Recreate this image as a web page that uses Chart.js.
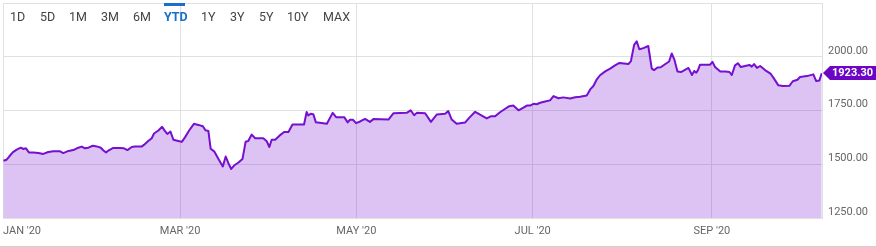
<!DOCTYPE html>
<html>
<head>
<meta charset="utf-8">
<script src="https://cdn.jsdelivr.net/npm/chart.js@4.4.0/dist/chart.umd.min.js"></script>
<style>
  body { margin: 0; background: #fff; }
  #wrap { position: relative; width: 876px; height: 247px; font-family: Roboto, sans-serif; }
  #ranges { position: absolute; left: 0; top: 0; height: 30px; width: 360px; }
  #ranges span { position: absolute; top: 10px; font-size: 12.5px; color: #444; line-height: 14px; }
  #ranges span.active { color: #1a6fc9; font-weight: bold; }
  #ranges .bar { position: absolute; left: 164px; top: 3px; width: 21px; height: 3px; background: #1a6fc9; }
</style>
</head>
<body>
<div id="wrap">
  <canvas id="goldChart" width="876" height="247"></canvas>
  <div id="ranges"><div class="bar"></div></div>
</div>
<script>
// dias desde el 1 de enero de 2020 (el 31 dic 2019 es -1)
const days = [
  -1.1, 0.0, 0.9, 2.1, 3.5, 4.9, 5.8, 6.7, 7.7, 9.2, 11.0, 12.7, 14.4, 16.2, 18.5, 19.6,
  21.4, 23.1, 24.8, 26.0, 27.1, 28.3, 29.8, 31.2, 32.6, 33.5, 34.4, 35.5, 36.9, 39.2, 40.6,
  41.8, 43.3, 44.4, 46.8, 47.5, 49.0, 50.2, 51.0, 52.5, 53.8, 54.8, 55.6, 56.7, 57.7, 59.4,
  60.6, 61.7, 63.2, 64.8, 66.3, 67.9, 68.8, 69.8, 70.6, 71.8, 73.3, 74.8, 75.8, 76.7, 77.7,
  78.7, 80.2, 81.6, 82.7, 83.6, 84.8, 86.0, 87.7, 88.8, 90.0, 90.9, 91.7, 92.9, 94.4, 96.0,
  97.5, 98.9, 102.9, 103.8, 104.4, 105.2, 106.1, 107.0, 110.8, 112.8, 114.0, 116.8, 118.0,
  118.8, 119.8, 120.9, 122.3, 124.0, 125.7, 126.9, 132.1, 133.8, 138.4, 139.8, 141.0, 141.9,
  144.8, 146.8, 148.8, 151.7, 152.8, 154.0, 155.7, 158.6, 160.1, 162.1, 163.8, 166.1, 167.5,
  169.0, 170.7, 172.5, 173.9, 175.3, 177.1, 178.8, 180.0, 181.1, 182.3, 183.4, 184.6, 186.3,
  188.0, 189.2, 190.9, 192.6, 195.0, 196.7, 198.4, 200.7, 201.9, 203.0, 204.2, 205.3, 207.1,
  208.8, 210.5, 212.0, 215.1, 216.0, 217.1, 218.0, 218.9, 220.3, 222.0, 223.2, 224.0, 225.2,
  226.3, 227.8, 229.2, 230.1, 231.0, 232.1, 233.3, 235.9, 237.1, 237.9, 238.6, 239.2, 239.9,
  243.4, 244.2, 245.1, 246.9, 248.6, 250.1, 250.9, 252.0, 253.0, 254.0, 255.5, 257.0, 257.8,
  258.6, 259.6, 260.7, 262.4, 264.4, 265.5, 267.0, 268.6, 270.8, 272.0, 273.6, 274.5, 276.9,
  279.1, 280.1, 281.2, 282.0
];
const prices = [
  1516, 1521, 1536, 1555, 1568, 1577, 1571, 1574, 1555, 1555, 1552, 1548, 1557, 1560, 1560, 1552,
  1562, 1566, 1577, 1582, 1574, 1577, 1586, 1583, 1577, 1564, 1555, 1566, 1576, 1576, 1574,
  1566, 1580, 1583, 1583, 1590, 1608, 1621, 1643, 1657, 1674, 1654, 1641, 1652, 1614, 1608,
  1604, 1625, 1658, 1688, 1683, 1677, 1658, 1655, 1572, 1560, 1524, 1490, 1536, 1506, 1478,
  1494, 1508, 1524, 1605, 1608, 1638, 1621, 1621, 1621, 1607, 1580, 1614, 1614, 1633, 1650,
  1650, 1685, 1685, 1743, 1727, 1735, 1733, 1695, 1688, 1739, 1719, 1719, 1695,
  1707, 1707, 1691, 1699, 1711, 1697, 1710, 1708, 1737, 1739, 1751, 1728, 1739,
  1737, 1697, 1731, 1735, 1747, 1708, 1688, 1694, 1717, 1744, 1731, 1713, 1723,
  1723, 1742, 1758, 1770, 1773, 1751, 1763, 1773, 1773, 1781, 1779, 1786, 1792,
  1797, 1817, 1807, 1811, 1806, 1812, 1814, 1820, 1848, 1864, 1895, 1914, 1932,
  1945, 1960, 1971, 1966, 1980, 2055, 2072, 2035, 2040, 2050, 1945, 1938, 1950,
  1951, 1965, 1978, 2015, 1988, 1931, 1929, 1948, 1915, 1934, 1926, 1938, 1963,
  1963, 1976, 1952, 1931, 1931, 1929, 1915, 1960, 1970, 1952, 1957, 1962, 1954,
  1966, 1948, 1957, 1938, 1920, 1898, 1867, 1864, 1865, 1886, 1893, 1906, 1910,
  1918, 1887, 1890, 1923.30
];

const xMin = -1.25;
const xMax = 282.1;
const tickDays = [xMin, 60, 121, 182, 244];
const tickLabels = ["JAN '20", "MAR '20", "MAY '20", "JUL '20", "SEP '20"];
const yTicks = [1250, 1500, 1750, 2000, 2250];
const rangeLabels = ['1D', '5D', '1M', '3M', '6M', 'YTD', '1Y', '3Y', '5Y', '10Y', 'MAX'];
const rangeX = [10, 40, 69, 101, 133, 164, 201, 230, 259, 287, 323];

const lineColor = '#7510d0';
const boxColor = '#6c06c4';

// botones de rango
const ranges = document.getElementById('ranges');
rangeLabels.forEach((txt, i) => {
    const s = document.createElement('span');
    s.textContent = txt;
    s.style.left = rangeX[i] + 'px';
    if (txt === 'YTD') s.classList.add('active');
    ranges.appendChild(s);
});

// etiqueta del ultimo valor
const lastValuePlugin = {
    id: 'lastValue',
    afterDraw(chart) {
        const ctx = chart.ctx;
        const meta = chart.getDatasetMeta(0);
        const last = meta.data[meta.data.length - 1];
        const y = Math.round(last.y);
        const x0 = chart.chartArea.right + 1;
        ctx.save();
        ctx.fillStyle = boxColor;
        ctx.beginPath();
        ctx.moveTo(x0, y);
        ctx.lineTo(x0 + 7, y - 7);
        ctx.lineTo(876, y - 7);
        ctx.lineTo(876, y + 7);
        ctx.lineTo(x0 + 7, y + 7);
        ctx.closePath();
        ctx.fill();
        ctx.fillStyle = '#fff';
        ctx.font = 'bold 11px Roboto';
        ctx.textBaseline = 'middle';
        ctx.textAlign = 'left';
        ctx.fillText(prices[prices.length - 1].toFixed(2), x0 + 9, y + 0.5);
        // linea inferior
        ctx.strokeStyle = '#d0d0d0';
        ctx.lineWidth = 1;
        ctx.beginPath();
        ctx.moveTo(0, 246.5);
        ctx.lineTo(876, 246.5);
        ctx.stroke();
        ctx.restore();
    }
};

const ctx = document.getElementById('goldChart').getContext('2d');
const chart = new Chart(ctx, {
    type: 'line',
    data: {
        datasets: [{
            data: days.map((d, i) => ({ x: d, y: prices[i] })),
            borderColor: lineColor,
            backgroundColor: 'rgba(117, 16, 208, 0.25)',
            borderWidth: 2,
            pointRadius: 0,
            tension: 0,
            fill: 'start',
            borderJoinStyle: 'round'
        }]
    },
    options: {
        responsive: false,
        animation: false,
        layout: { padding: { left: 3, top: 3, right: 0, bottom: 0 } },
        plugins: {
            legend: { display: false },
            tooltip: { enabled: false }
        },
        scales: {
            x: {
                type: 'linear',
                min: xMin,
                max: xMax,
                afterBuildTicks: (scale) => {
                    scale.ticks = tickDays.concat([xMax]).map(v => ({ value: v }));
                },
                afterFit: (scale) => {
                    scale.height = 29;
                    scale.paddingLeft = 0;
                    scale.paddingRight = 0;
                },
                grid: { color: '#e0e0e0', drawTicks: false },
                border: { display: false },
                ticks: {
                    align: 'inner',
                    maxRotation: 0,
                    autoSkip: false,
                    padding: 7,
                    color: '#666',
                    font: { family: 'Roboto', size: 11 },
                    callback: (value) => {
                        const i = tickDays.indexOf(value);
                        return i >= 0 ? tickLabels[i] : '';
                    }
                }
            },
            y: {
                position: 'right',
                min: 1250,
                max: 2250,
                afterBuildTicks: (scale) => {
                    scale.ticks = yTicks.map(v => ({ value: v }));
                },
                afterFit: (scale) => {
                    scale.width = 54;
                    scale.paddingTop = 0;
                    scale.paddingBottom = 0;
                },
                grid: { color: '#e0e0e0', drawTicks: false },
                border: { color: '#e0e0e0' },
                ticks: {
                    padding: 6,
                    labelOffset: -6,
                    color: '#666',
                    font: { family: 'Roboto', size: 11 },
                    callback: (value) => value === 2250 ? '' : value.toFixed(2)
                }
            }
        }
    },
    plugins: [lastValuePlugin]
});
</script>
</body>
</html>
